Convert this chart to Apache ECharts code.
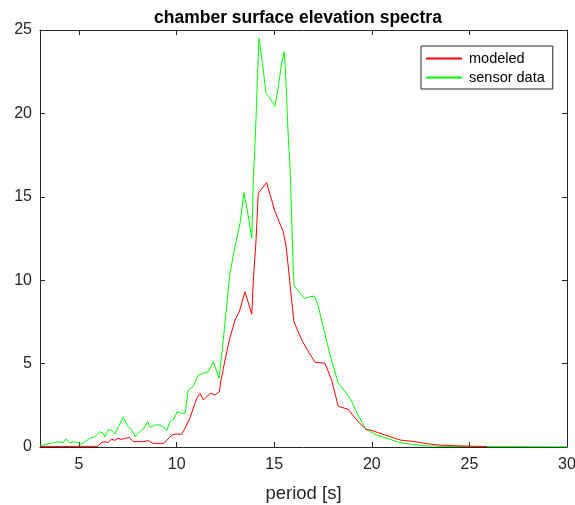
<!DOCTYPE html>
<html>
<head>
<meta charset="utf-8">
<script src="https://cdn.jsdelivr.net/npm/echarts@6/dist/echarts.min.js"></script>
<style>html,body{margin:0;padding:0;background:#fff}#c{width:575px;height:505px}</style>
</head>
<body>
<div id="c"></div>
<script>
const titleText = 'chamber surface elevation spectra';
const xLabel = 'period [s]';
const xTicks = [5, 10, 15, 20, 25, 30];
const yTicks = [0, 5, 10, 15, 20, 25];

const modeledPeriod = [3.00, 5.97, 6.14, 6.33, 6.48, 6.65, 6.84, 7.00, 7.15, 7.41, 7.57, 7.78, 8.02, 8.28, 8.55, 8.79, 9.32, 9.51, 9.75, 9.98, 10.26, 10.43, 10.68, 11.03, 11.20, 11.37, 11.54, 11.74, 11.97, 12.19, 12.26, 12.48, 12.70, 12.99, 13.21, 13.50, 13.85, 13.93, 14.07, 14.18, 14.61, 15.04, 15.46, 15.60, 15.71, 15.84, 16.01, 16.41, 16.73, 17.09, 17.60, 17.94, 18.28, 18.79, 19.22, 19.70, 19.91, 20.33, 20.93, 21.44, 22.21, 22.72, 23.40, 24.52, 25.90];
const modeledValue = [0.03, 0.04, 0.26, 0.32, 0.26, 0.46, 0.40, 0.52, 0.46, 0.52, 0.58, 0.32, 0.32, 0.32, 0.38, 0.22, 0.22, 0.42, 0.72, 0.78, 0.76, 1.12, 1.74, 2.92, 3.22, 2.82, 3.02, 3.22, 3.12, 3.32, 3.91, 5.22, 6.41, 7.61, 8.11, 9.31, 7.96, 10.01, 12.41, 15.21, 15.85, 14.11, 12.91, 12.11, 10.91, 9.41, 7.51, 6.41, 5.76, 5.08, 5.02, 4.02, 2.44, 2.26, 1.62, 1.06, 1.02, 0.86, 0.62, 0.42, 0.32, 0.22, 0.12, 0.06, 0.03];

const sensorPeriod = [3.00, 3.26, 3.67, 3.92, 4.18, 4.33, 4.54, 4.69, 4.95, 5.10, 5.31, 5.55, 5.82, 6.06, 6.23, 6.33, 6.48, 6.67, 6.84, 7.01, 7.27, 7.41, 7.52, 7.70, 7.87, 8.12, 8.29, 8.52, 8.64, 8.89, 9.15, 9.40, 9.49, 9.66, 9.83, 10.03, 10.26, 10.43, 10.60, 10.85, 11.11, 11.37, 11.62, 11.88, 12.18, 12.39, 12.73, 12.99, 13.25, 13.45, 13.66, 13.85, 13.93, 14.01, 14.07, 14.13, 14.22, 14.31, 14.44, 14.58, 14.78, 15.04, 15.21, 15.38, 15.52, 15.59, 15.72, 15.81, 15.86, 15.95, 16.01, 16.54, 16.78, 17.05, 17.24, 17.51, 17.86, 18.28, 18.57, 18.92, 19.29, 19.70, 20.25, 20.78, 21.44, 21.96, 22.62, 23.49, 25.03, 26.57, 30.00];
const sensorValue = [0.06, 0.15, 0.24, 0.32, 0.24, 0.48, 0.24, 0.32, 0.26, 0.16, 0.32, 0.52, 0.62, 0.92, 0.82, 0.60, 1.02, 1.02, 0.78, 1.22, 1.78, 1.46, 1.22, 1.02, 0.62, 0.92, 1.06, 1.52, 1.18, 1.32, 1.32, 1.12, 0.98, 1.52, 1.62, 2.12, 2.02, 2.02, 3.42, 3.62, 4.32, 4.42, 4.51, 5.11, 4.12, 6.41, 10.41, 12.01, 13.41, 15.25, 13.91, 12.51, 16.01, 18.00, 19.80, 21.80, 24.50, 23.80, 22.60, 21.21, 20.92, 20.44, 21.60, 23.02, 23.70, 22.20, 18.60, 16.80, 15.01, 11.51, 9.71, 8.91, 8.99, 9.05, 8.51, 7.21, 5.52, 3.82, 3.42, 2.86, 1.92, 1.06, 0.72, 0.52, 0.26, 0.18, 0.08, 0.04, 0.03, 0.02, 0.01];

const pair = (xs, ys) => xs.map((x, i) => [x, ys[i]]);
const axisCol = '#262626';
const font = 'Liberation Sans, Arial, sans-serif';

const chart = echarts.init(document.getElementById('c'), null, {renderer: 'canvas'});
const baseX = {
  type: 'value', min: 3, max: 30,
  axisLine: {show: true, onZero: false, lineStyle: {color: axisCol, width: 1}},
  splitLine: {show: false}
};
const baseY = {
  type: 'value', min: 0, max: 25, interval: 5,
  axisLine: {show: true, onZero: false, lineStyle: {color: axisCol, width: 1}},
  splitLine: {show: false}
};
chart.setOption({
  animation: false,
  backgroundColor: '#ffffff',
  title: {
    text: titleText, left: 149, top: 4,
    textStyle: {fontFamily: font, fontSize: 17.5, fontWeight: 'bold', color: '#000'}
  },
  grid: {left: 40, right: 8, top: 30, bottom: 58, containLabel: false, outerBoundsMode: 'none'},
  legend: {
    orient: 'vertical', left: 421, top: 46,
    padding: [5, 8, 4, 5], itemGap: 4, itemWidth: 36, itemHeight: 2,
    icon: 'rect',
    backgroundColor: '#fff', borderColor: axisCol, borderWidth: 1, borderRadius: 0,
    textStyle: {fontFamily: font, fontSize: 14.5, color: '#000', padding: [0, 0, 0, 2]},
    data: ['modeled', 'sensor data']
  },
  xAxis: [
    Object.assign({}, baseX, {
      position: 'bottom',
      name: xLabel, nameLocation: 'middle', nameGap: 37,
      nameTextStyle: {fontFamily: font, fontSize: 18.5, color: axisCol},
      axisTick: {show: true, inside: true, length: 5, customValues: xTicks, lineStyle: {color: axisCol}},
      axisLabel: {show: true, customValues: xTicks, margin: 10, fontFamily: font, fontSize: 16, color: axisCol}
    }),
    Object.assign({}, baseX, {
      position: 'top',
      axisTick: {show: true, inside: true, length: 5, customValues: xTicks, lineStyle: {color: axisCol}},
      axisLabel: {show: false}
    })
  ],
  yAxis: [
    Object.assign({}, baseY, {
      position: 'left',
      axisTick: {show: true, inside: true, length: 5, lineStyle: {color: axisCol}},
      axisLabel: {show: true, margin: 8, fontFamily: font, fontSize: 16, color: axisCol}
    }),
    Object.assign({}, baseY, {
      position: 'right',
      axisTick: {show: true, inside: true, length: 5, lineStyle: {color: axisCol}},
      axisLabel: {show: false}
    })
  ],
  series: [
    {
      name: 'modeled', type: 'line', xAxisIndex: 0, yAxisIndex: 0,
      data: pair(modeledPeriod, modeledValue),
      showSymbol: false, symbol: 'none', smooth: false,
      lineStyle: {color: '#ff0000', width: 1}, itemStyle: {color: '#ff0000'}, z: 3
    },
    {
      name: 'sensor data', type: 'line', xAxisIndex: 0, yAxisIndex: 0,
      data: pair(sensorPeriod, sensorValue),
      showSymbol: false, symbol: 'none', smooth: false,
      lineStyle: {color: '#00ff00', width: 1}, itemStyle: {color: '#00ff00'}, z: 2
    }
  ]
});
</script>
</body>
</html>
